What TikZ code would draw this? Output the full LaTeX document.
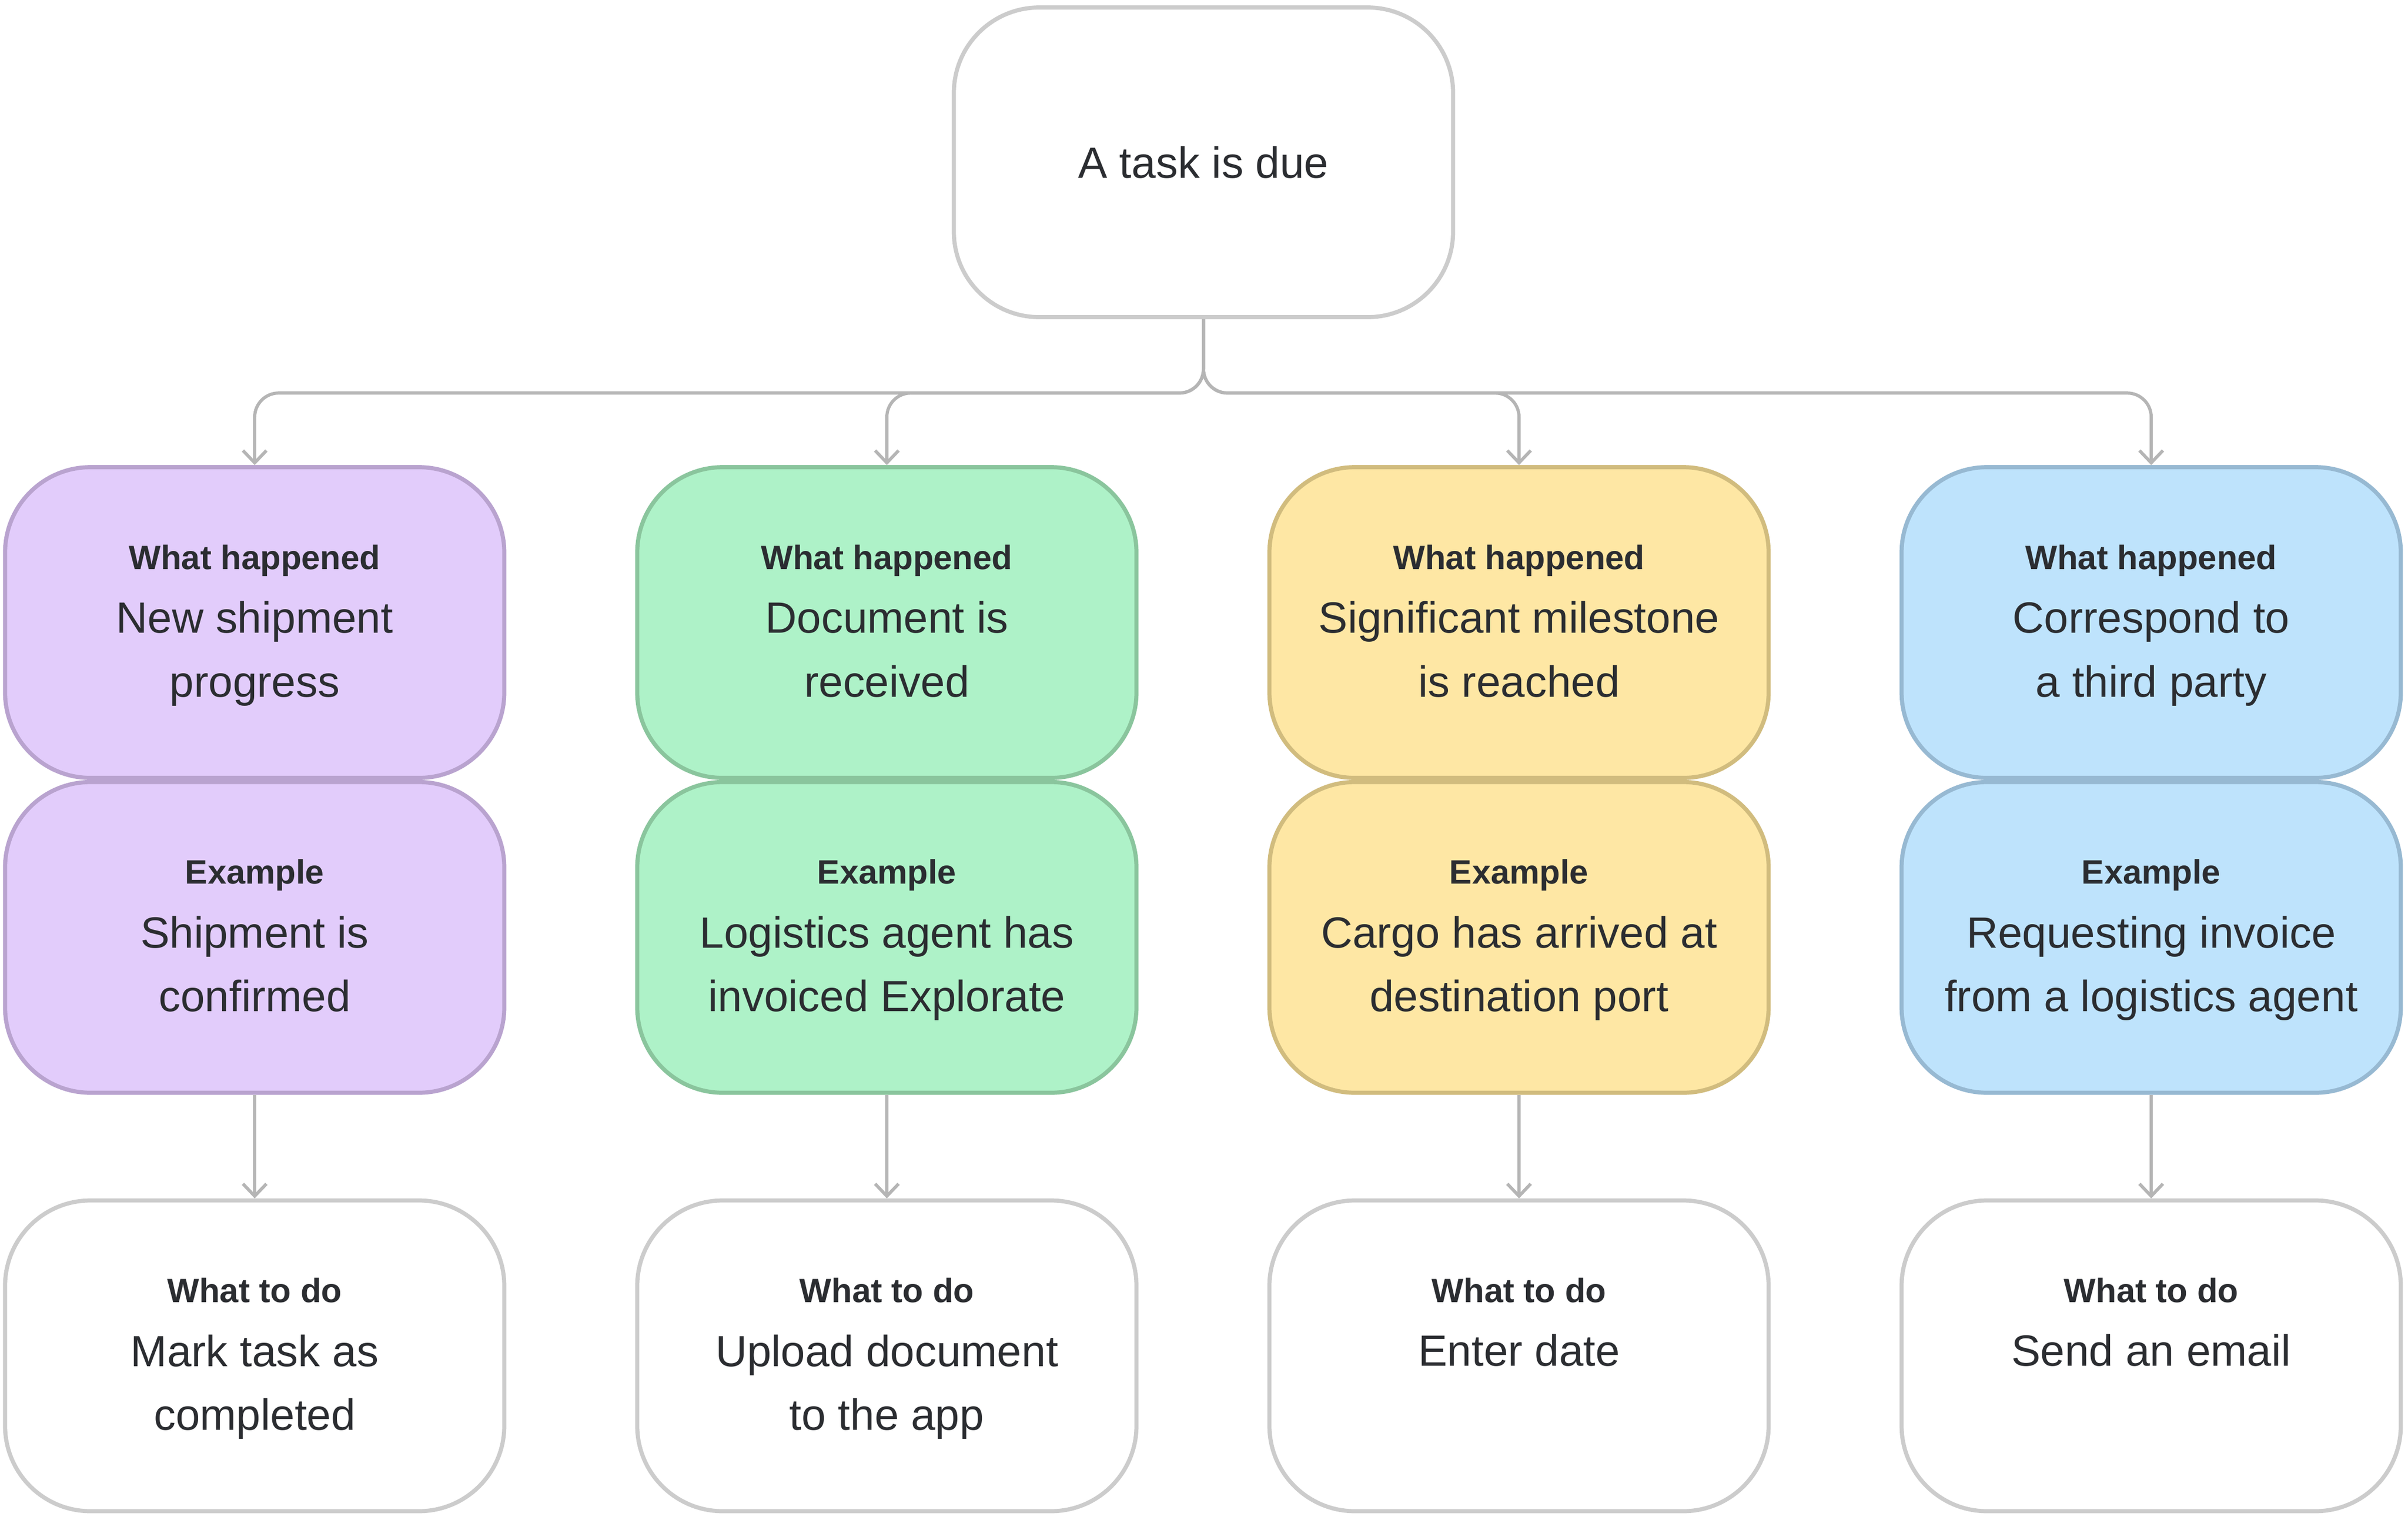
\documentclass[tikz,border=0pt]{standalone}
\usepackage{fontspec}
\setmainfont{Liberation Sans}
\usetikzlibrary{positioning,arrows.meta}
\definecolor{inkc}{HTML}{2B2D31}
\definecolor{greyline}{HTML}{CCCCCC}
\definecolor{connc}{HTML}{B5B5B5}
\definecolor{purplef}{HTML}{E2CCFB}
\definecolor{purpled}{HTML}{B9A3CF}
\definecolor{greenf}{HTML}{AEF2C8}
\definecolor{greend}{HTML}{8AC59D}
\definecolor{yellowf}{HTML}{FEE7A4}
\definecolor{yellowd}{HTML}{D1BC7E}
\definecolor{bluef}{HTML}{BEE3FC}
\definecolor{blued}{HTML}{97B9D2}
\tikzset{
  box/.style={draw, rounded corners=16mm, line width=2.2pt, minimum width=93.5mm, minimum height=58.2mm, inner sep=0pt},
  plainbox/.style={box, fill=white, draw=greyline},
  purplebox/.style={box, fill=purplef, draw=purpled},
  greenbox/.style={box, fill=greenf, draw=greend},
  yellowbox/.style={box, fill=yellowf, draw=yellowd},
  bluebox/.style={box, fill=bluef, draw=blued},
  head/.style={font=\fontsize{18}{22}\selectfont\bfseries, text=inkc, anchor=base, inner sep=0pt},
  body/.style={font=\fontsize{23.3}{34}\selectfont, text=inkc, align=center, anchor=base, inner sep=0pt},
  conn/.style={draw=connc, line width=1.7pt, -{Straight Barb[length=2.3mm,width=4.4mm]}, rounded corners=4.5mm}
}
\begin{document}
\begin{tikzpicture}[x=1mm,y=-1mm]
  \useasboundingbox (0,0) rectangle (451,284.6);
  % root
  \node[plainbox, minimum height=58mm, font=\fontsize{23.3}{34}\selectfont, text=inkc] (due) at (225.4,30.4) {A task is due};
  % what happened
  \node[purplebox] (wh1) at (47.7,116.6)  {};
  \node[greenbox]  (wh2) at (166.1,116.6) {};
  \node[yellowbox] (wh3) at (284.5,116.6) {};
  \node[bluebox]   (wh4) at (402.9,116.6) {};
  % examples
  \node[purplebox] (ex1) [below=0pt of wh1] {};
  \node[greenbox]  (ex2) [below=0pt of wh2] {};
  \node[yellowbox] (ex3) [below=0pt of wh3] {};
  \node[bluebox]   (ex4) [below=0pt of wh4] {};
  % what to do
  \node[plainbox] (do1) [below=19.4mm of ex1] {};
  \node[plainbox] (do2) [below=19.4mm of ex2] {};
  \node[plainbox] (do3) [below=19.4mm of ex3] {};
  \node[plainbox] (do4) [below=19.4mm of ex4] {};

  % texts (base of a two-line body is its last line)
  \node[head] (wh1h) at ([yshift=-19.5mm]wh1.north) {What happened};
  \node[body] (wh1b) at ([yshift=-43.4mm]wh1.north) {New shipment\\progress};
  \node[head] (wh2h) at ([yshift=-19.5mm]wh2.north) {What happened};
  \node[body] (wh2b) at ([yshift=-43.4mm]wh2.north) {Document is\\received};
  \node[head] (wh3h) at ([yshift=-19.5mm]wh3.north) {What happened};
  \node[body] (wh3b) at ([yshift=-43.4mm]wh3.north) {Significant milestone\\is reached};
  \node[head] (wh4h) at ([yshift=-19.5mm]wh4.north) {What happened};
  \node[body] (wh4b) at ([yshift=-43.4mm]wh4.north) {Correspond to\\a third party};

  \node[head] (ex1h) at ([yshift=-19.5mm]ex1.north) {Example};
  \node[body] (ex1b) at ([yshift=-43.4mm]ex1.north) {Shipment is\\confirmed};
  \node[head] (ex2h) at ([yshift=-19.5mm]ex2.north) {Example};
  \node[body] (ex2b) at ([yshift=-43.4mm]ex2.north) {Logistics agent has\\invoiced Explorate};
  \node[head] (ex3h) at ([yshift=-19.5mm]ex3.north) {Example};
  \node[body] (ex3b) at ([yshift=-43.4mm]ex3.north) {Cargo has arrived at\\destination port};
  \node[head] (ex4h) at ([yshift=-19.5mm]ex4.north) {Example};
  \node[body] (ex4b) at ([yshift=-43.4mm]ex4.north) {Requesting invoice\\from a logistics agent};

  \node[head] (do1h) at ([yshift=-19.5mm]do1.north) {What to do};
  \node[body] (do1b) at ([yshift=-43.4mm]do1.north) {Mark task as\\completed};
  \node[head] (do2h) at ([yshift=-19.5mm]do2.north) {What to do};
  \node[body] (do2b) at ([yshift=-43.4mm]do2.north) {Upload document\\to the app};
  \node[head] (do3h) at ([yshift=-19.5mm]do3.north) {What to do};
  \node[body] (do3b) at ([yshift=-31.4mm]do3.north) {Enter date};
  \node[head] (do4h) at ([yshift=-19.5mm]do4.north) {What to do};
  \node[body] (do4b) at ([yshift=-31.4mm]do4.north) {Send an email};

  % connectors
  \draw[conn] (due.south) |- ([yshift=13.5mm]wh1.north) -- (wh1.north);
  \draw[conn] (due.south) |- ([yshift=13.5mm]wh2.north) -- (wh2.north);
  \draw[conn] (due.south) |- ([yshift=13.5mm]wh3.north) -- (wh3.north);
  \draw[conn] (due.south) |- ([yshift=13.5mm]wh4.north) -- (wh4.north);
  \draw[conn] (ex1.south) -- (do1.north);
  \draw[conn] (ex2.south) -- (do2.north);
  \draw[conn] (ex3.south) -- (do3.north);
  \draw[conn] (ex4.south) -- (do4.north);
\end{tikzpicture}
\end{document}
